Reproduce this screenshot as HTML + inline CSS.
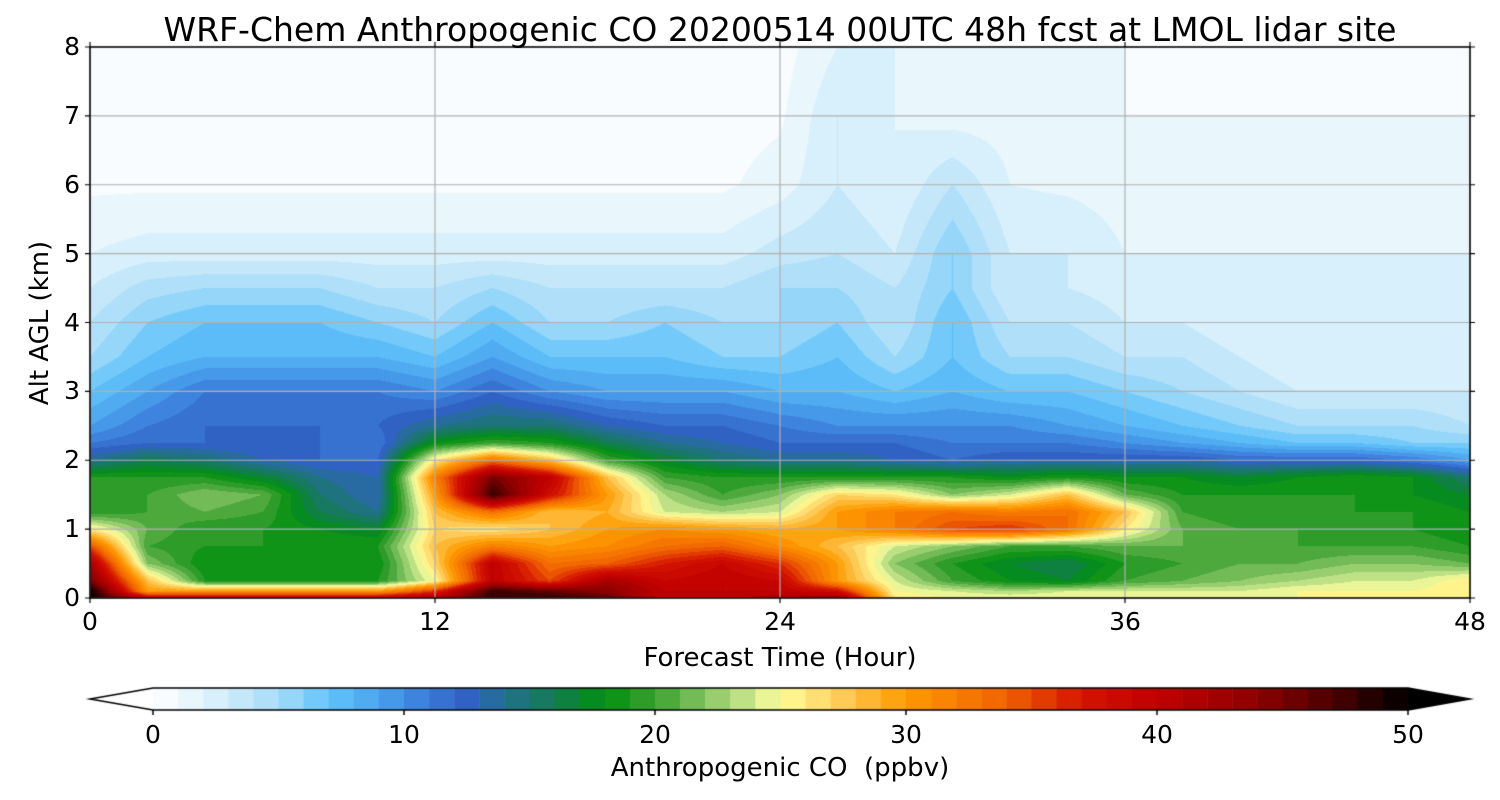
<!DOCTYPE html>
<html><head><meta charset="utf-8">
<style>
body{margin:0;background:#fff;width:1500px;height:800px;overflow:hidden;font-family:"DejaVu Sans","Liberation Sans",sans-serif;}
#wrap{position:relative;width:1500px;height:800px;}
.t{position:absolute;color:#000;white-space:nowrap;}
</style></head>
<body><div id="wrap">
<canvas id="cv" width="1500" height="800" style="position:absolute;left:0;top:0"></canvas>
<div class="t" style="left:0;width:1560px;text-align:center;top:10px;font-size:33px;">WRF-Chem Anthropogenic CO 20200514 00UTC 48h fcst at LMOL lidar site</div>
<div class="t" style="left:40px;top:323px;font-size:26px;transform:translate(-50%,-50%) rotate(-90deg);">Alt AGL (km)</div>
<div class="t" style="left:0;width:1560px;text-align:center;top:643px;font-size:26px;">Forecast Time (Hour)</div>
<div class="t" style="left:0;width:1560px;text-align:center;top:753px;font-size:26px;">Anthropogenic CO&nbsp;&nbsp;(ppbv)</div>
<div id="labels"></div>
</div>
<script>
const times=[0,2,4,6,8,10,12,14,16,18,20,22,24,26,28,30,32,34,36,38,40,42,44,46,48];
const heights=[0,0.1,0.25,0.5,0.75,1.0,1.25,1.5,1.75,2.0,2.25,2.5,3.0,3.5,4.0,4.5,5.0,6.0,7.0,8.0];
const co=[
[50,40,40,40,40,40,42,48,48,46,40,40,42,44,26,25,25,25,25,25,25,25,25,25,26],
[50,30,30,30,30,30,36,48,46,44,40,40,40,38,25,24,23,24,24,24,24,25,25,25,26],
[45,28,19,19,19,19,25,40,35,42,39,40,39,30,24,20,18,17,20,21,22,23,24,24,26],
[42,22,18,18,18,18,27,40,33,34,37,39,36,30,22,19,17,16,19,20,21,21,22,22,21],
[35,20,19,19,19,19,28,32,30,31,33,34,31,28,24,22,20,20,21,21,21,20,20,20,19],
[26,21,19,19,18,17,27,26,28,30,31,30,29,30,32,35,36,33,26,21,20,20,19,19,18],
[19,20,21,20,16,14,28,33,28,29,24,23,24,30,32,33,32,33,28,20,19,19,19,19,18],
[19,20,22,21,15,13,30,48,38,30,23,20,22,27,26,22,24,28,21,19,19,19,19,18,17],
[19,19,19,17,14,13,32,45,40,28,20,19,19,19,19,19,18,19,18,18,17,18,19,18,15],
[14,16,15,13,12,12,26,33,28,20,17,15,14,14,13,12,13,13,13,13,12,12,12,11,9],
[11,12,12,12,12,11,18,20,19,16,14,13,12,12,12,11,11,11,10,9,8,7,7,6,6],
[9,11,12,12,12,12,14,15,15,13,12,12,11,10,10,10,10,9,8,7,6,5,5,5,4],
[7,9,11,11,11,11,10,12,10,9,9,9,8,8,7,8,7,7,6,5,4,3,3,3,3],
[5,7,8,8,8,8,7,9,7,7,7,6,6,7,5,7,5,5,4,4,3,2,2,2,2],
[4,6,7,7,7,6,5,7,5,5,6,5,5,6,4,7,4,4,3,3,2,2,2,2,2],
[3,4.5,5,5,5,4,4,5,4,4,4,4,5,5,4,6,3,3,2.5,2,2,2,2,2,2],
[2,2.5,2.5,2.5,2.5,2.5,2.5,2.5,2.5,2.5,2.5,2.5,3.5,4,3,6,3,3,2,2,2,2,2,2,2],
[0.8,0.8,0.8,0.8,0.8,0.8,0.8,0.8,0.8,0.8,0.8,0.8,1.5,3,2,4,2,1.8,1.5,1.5,1.5,1.5,1.5,1.5,1.5],
[0.5,0.5,0.5,0.5,0.5,0.5,0.5,0.5,0.5,0.5,0.5,0.5,0.8,3,2,1.5,1.5,1.5,1,1,1,1,1,1,1],
[0.3,0.3,0.3,0.3,0.3,0.3,0.3,0.3,0.3,0.3,0.3,0.3,0.5,2,2,1,1,1,1,0.5,0.5,0.5,0.5,0.5,0.5]
];
const cbTicks=[0,10,20,30,40,50];
const xTicks=[0,12,24,36,48];
const yTicks=[0,1,2,3,4,5,6,7,8];

const PX0=90,PX1=1470,PY0=598,PY1=47;
const xs=t=>PX0+(t-0)/48*(PX1-PX0);
const ys=h=>PY0-(h/8)*(PY0-PY1);
const CB0=153,CB1=1408,CBY=688,CBH=22;
const cbx=v=>CB0+v/50*(CB1-CB0);

const stops=[[0,'#ffffff'],[2,'#e2f4fc'],[5,'#a6dcf8'],[7,'#62c4fa'],[9,'#4aa2ee'],[11,'#3a7ad8'],[12.5,'#3062c4'],[14,'#22708e'],[16,'#127c50'],[18,'#009010'],[20,'#3ca030'],[22,'#84c462'],[24,'#d2ea92'],[25,'#ffff99'],[27,'#ffd466'],[30,'#ff9a00'],[34,'#f06200'],[37,'#d41400'],[40,'#c00000'],[44,'#8c0000'],[47,'#4a0000'],[50,'#000000']];
const hx=s=>[parseInt(s.substr(1,2),16),parseInt(s.substr(3,2),16),parseInt(s.substr(5,2),16)];
function cmap(v){
  v=Math.max(0,Math.min(50,v));
  for(let i=1;i<stops.length;i++){
    if(v<=stops[i][0]){const a=stops[i-1],b=stops[i];const f=(v-a[0])/(b[0]-a[0]);const c1=hx(a[1]),c2=hx(b[1]);return c1.map((c,k)=>Math.round(c+(c2[k]-c)*f));}
  }
  return [0,0,0];
}
function seg(arr,v){let i=0;while(i<arr.length-2&&v>arr[i+1])i++;return [i,(v-arr[i])/(arr[i+1]-arr[i])];}

const cv=document.getElementById('cv');const ctx=cv.getContext('2d');
const W=PX1-PX0,H=PY0-PY1;
const img=ctx.createImageData(W,H);
for(let py=0;py<H;py++){
  const h=(PY0-(PY1+py+0.5))/(PY0-PY1)*8;
  const [j,fy]=seg(heights,Math.max(0,Math.min(8,h)));
  for(let px=0;px<W;px++){
    const t=(px+0.5)/W*48;
    const [i,fx]=seg(times,t);
    const v=(co[j][i]*(1-fx)+co[j][i+1]*fx)*(1-fy)+(co[j+1][i]*(1-fx)+co[j+1][i+1]*fx)*fy;
    const c=cmap(Math.floor(v)+0.5);
    const o=(py*W+px)*4;img.data[o]=c[0];img.data[o+1]=c[1];img.data[o+2]=c[2];img.data[o+3]=255;
  }
}
ctx.putImageData(img,PX0,PY1);
ctx.strokeStyle='#b0b0b0';ctx.lineWidth=1.2;
xTicks.forEach(t=>{ctx.beginPath();ctx.moveTo(xs(t),PY1);ctx.lineTo(xs(t),PY0);ctx.stroke();});
yTicks.forEach(h=>{ctx.beginPath();ctx.moveTo(PX0,ys(h));ctx.lineTo(PX1,ys(h));ctx.stroke();});
ctx.strokeStyle='#000';ctx.lineWidth=1.5;ctx.strokeRect(PX0,PY1,W,H);
ctx.lineWidth=1.2;
xTicks.forEach(t=>{ctx.beginPath();ctx.moveTo(xs(t),PY0);ctx.lineTo(xs(t),PY0+5);ctx.moveTo(xs(t),PY1);ctx.lineTo(xs(t),PY1-5);ctx.stroke();});
yTicks.forEach(h=>{ctx.beginPath();ctx.moveTo(PX0,ys(h));ctx.lineTo(PX0-5,ys(h));ctx.moveTo(PX1,ys(h));ctx.lineTo(PX1+5,ys(h));ctx.stroke();});
for(let k=0;k<50;k++){const c=cmap(k+0.5);ctx.fillStyle=`rgb(${c})`;ctx.fillRect(cbx(k),CBY,cbx(k+1)-cbx(k)+0.5,CBH);}
ctx.fillStyle='#fff';ctx.beginPath();ctx.moveTo(CB0,CBY);ctx.lineTo(90,CBY+CBH/2);ctx.lineTo(CB0,CBY+CBH);ctx.closePath();ctx.fill();
ctx.fillStyle='#000';ctx.beginPath();ctx.moveTo(CB1,CBY);ctx.lineTo(1470,CBY+CBH/2);ctx.lineTo(CB1,CBY+CBH);ctx.closePath();ctx.fill();
ctx.strokeStyle='#000';ctx.lineWidth=1.5;ctx.beginPath();
ctx.moveTo(CB0,CBY);ctx.lineTo(CB1,CBY);ctx.lineTo(1470,CBY+CBH/2);ctx.lineTo(CB1,CBY+CBH);ctx.lineTo(CB0,CBY+CBH);ctx.lineTo(90,CBY+CBH/2);ctx.closePath();ctx.stroke();
cbTicks.forEach(v=>{ctx.beginPath();ctx.moveTo(cbx(v),CBY+CBH);ctx.lineTo(cbx(v),CBY+CBH+5);ctx.stroke();});
const L=document.getElementById('labels');
function lab(txt,x,y,align,name){const d=document.createElement('div');d.className='t';d.textContent=txt;d.style.fontSize='25px';d.style.top=(y-15)+'px';
 if(align==='c'){d.style.left=(x-60)+'px';d.style.width='120px';d.style.textAlign='center';}else{d.style.left=(x-120)+'px';d.style.width='120px';d.style.textAlign='right';}
 
 
 L.appendChild(d);}
xTicks.forEach(t=>lab(String(t),xs(t),622,'c','x-tick-label'));
yTicks.forEach(h=>lab(String(h),80,ys(h),'r','y-tick-label'));
cbTicks.forEach(v=>lab(String(v),cbx(v),735,'c','colorbar-tick-label'));
</script>
</body></html>
